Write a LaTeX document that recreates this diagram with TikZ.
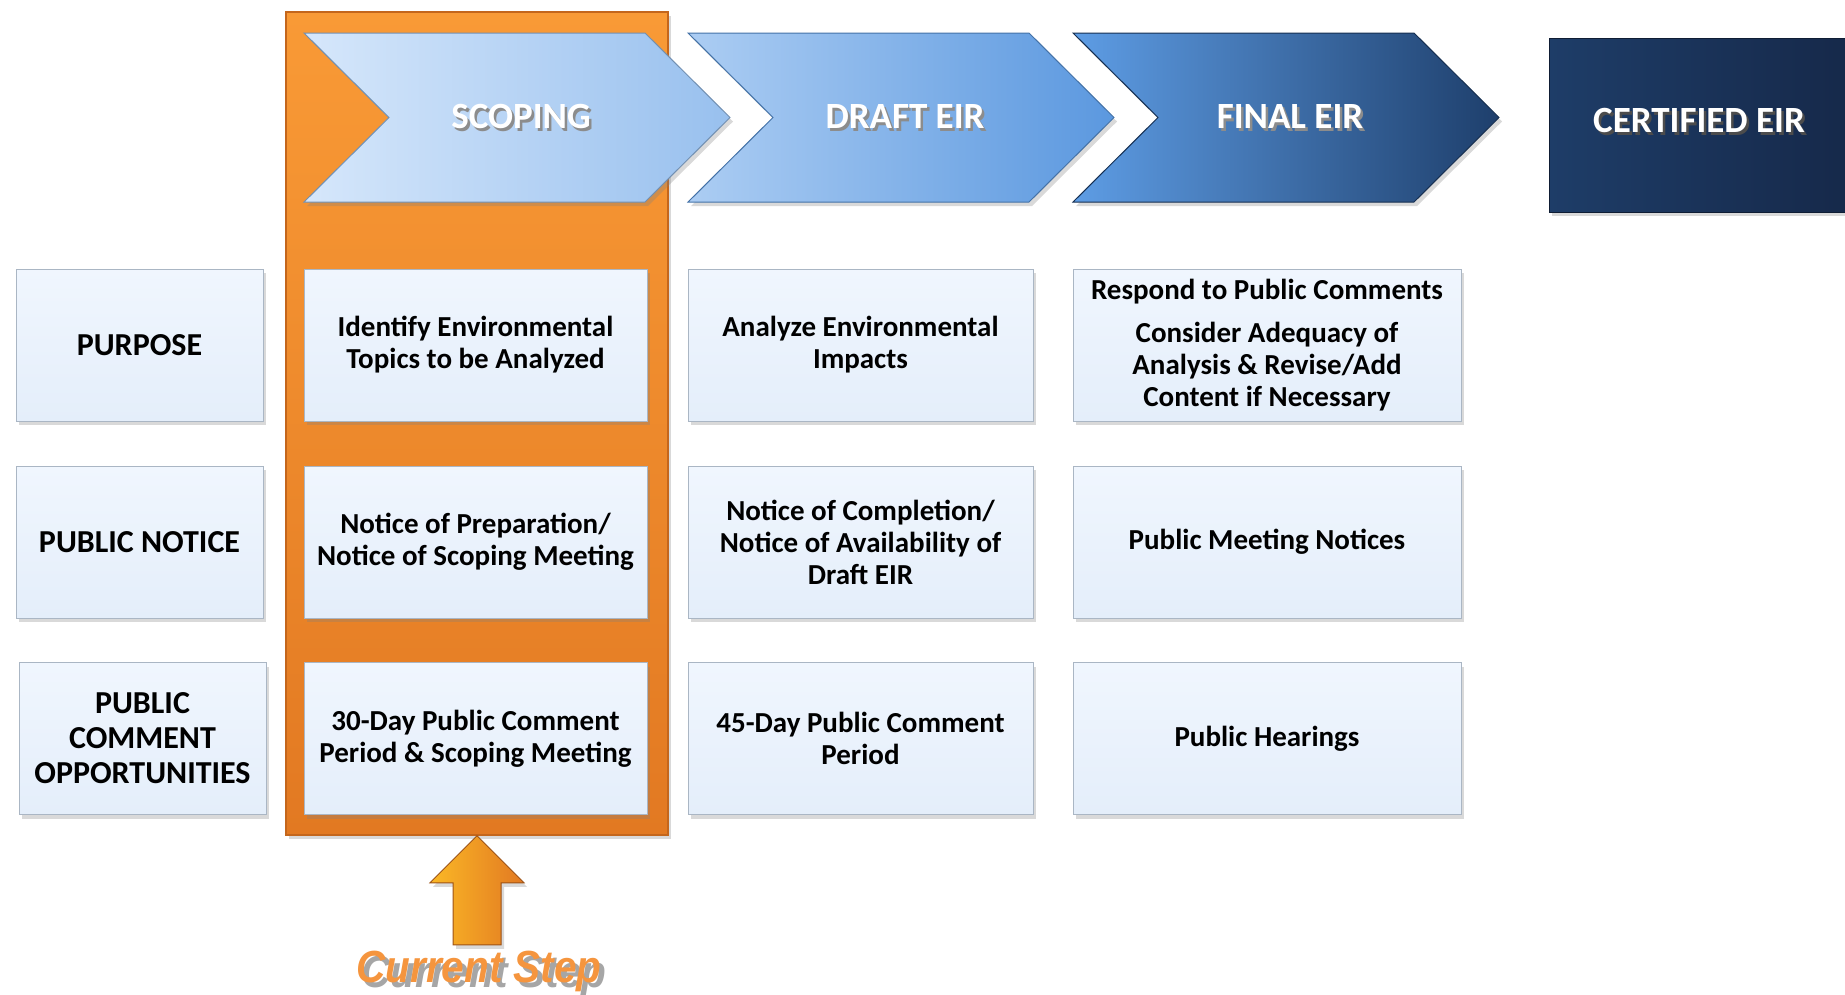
\documentclass[tikz,border=0pt]{standalone}
\usepackage{fontspec}
\setmainfont{Carlito}
\newfontfamily\stepfont[FakeStretch=0.9]{Liberation Sans}
\usetikzlibrary{shadows}

\definecolor{colTop}{HTML}{F99A36}
\definecolor{colBot}{HTML}{E27922}
\definecolor{colEdge}{HTML}{C4661C}
\definecolor{cellTop}{HTML}{F0F6FE}
\definecolor{cellFill}{HTML}{E4EEFA}
\definecolor{cellEdge}{HTML}{AAB6C4}
\definecolor{scopeL}{HTML}{D6E7FB}
\definecolor{scopeR}{HTML}{98C0EE}
\definecolor{draftL}{HTML}{ACCDF3}
\definecolor{draftR}{HTML}{5B98DF}
\definecolor{finalL}{HTML}{5E9DE5}
\definecolor{finalR}{HTML}{1E3F6C}
\definecolor{certL}{HTML}{1E3D68}
\definecolor{certR}{HTML}{16294A}
\definecolor{stepOrange}{HTML}{F5953E}

% text with an offset grey copy behind it
\newcommand{\shadowtext}[3]{\makebox[0pt][l]{\hspace{#1}\raisebox{-#1}{\textcolor{#2}{#3}}}#3}

\tikzset{
  softshadow/.style={drop shadow={opacity=0.3, shadow xshift=3pt, shadow yshift=-4pt}},
  cell/.style={draw=cellEdge, line width=1pt, top color=cellTop, bottom color=cellFill,
    minimum height=152pt, inner sep=0pt, align=center, softshadow,
    font=\fontsize{29}{32}\selectfont\bfseries},
  rowlabel/.style={cell, minimum width=247pt, font=\fontsize{32}{35}\selectfont\bfseries},
  headtext/.style={text=white, font=\fontsize{37}{40}\selectfont\bfseries}
}

\begin{document}
\begin{tikzpicture}[x=1pt,y=-1pt]
  \useasboundingbox (0,0) rectangle (1845,994);

  % current step column
  \node [draw=colEdge, line width=1.5pt, top color=colTop, bottom color=colBot,
    minimum width=382pt, minimum height=823pt, inner sep=0pt, softshadow] (col) at (477,423.5) {};

  % stage chevrons
  \foreach \x/\lc/\rc/\lbl/\nm in {304/scopeL/scopeR/SCOPING/scope,
      688/draftL/draftR/DRAFT EIR/draft, 1073/finalL/finalR/FINAL EIR/final} {
    \path [left color=\lc, right color=\rc, draw=\rc!75!black, line width=1pt, softshadow]
      (\x,33) -- ++(341,0) -- ++(85,84.5) -- ++(-85,84.5) -- ++(-341,0) -- ++(85,-84.5) -- cycle;
    \node [headtext] (\nm) at (\x+217,118) {\shadowtext{2.5pt}{black!45}{\lbl}};
  }
  \node [left color=certL, right color=certR, draw=certR!70!black, line width=1pt,
    minimum width=298pt, minimum height=174pt, softshadow] (cert) at (1698,125) {};
  \node [headtext] (certtxt) at (1699,122) {\shadowtext{2.5pt}{black!70}{CERTIFIED EIR}};

  % row labels
  \node [rowlabel] (purpose) at (139.5,345) {PURPOSE};
  \node [rowlabel] (notice) at (139.5,542) {PUBLIC NOTICE};
  \node [rowlabel] (comment) at (142.5,738.5) {PUBLIC\\COMMENT\\OPPORTUNITIES};

  % scoping
  \node [cell, minimum width=343pt] (s1) at (475.5,345) {Identify Environmental\\Topics to be Analyzed};
  \node [cell, minimum width=343pt] (s2) at (475.5,542) {Notice of Preparation/\\Notice of Scoping Meeting};
  \node [cell, minimum width=343pt] (s3) at (475.5,738.5) {30-Day Public Comment\\Period \& Scoping Meeting};

  % draft EIR
  \node [cell, minimum width=345pt] (d1) at (860.5,345) {Analyze Environmental\\Impacts};
  \node [cell, minimum width=345pt] (d2) at (860.5,542) {Notice of Completion/\\Notice of Availability of\\Draft EIR};
  \node [cell, minimum width=345pt] (d3) at (860.5,738.5) {45-Day Public Comment\\Period};

  % final EIR
  \node [cell, minimum width=388pt] (f1) at (1267,345) {Respond to Public Comments\\[11pt]Consider Adequacy of\\Analysis \& Revise/Add\\Content if Necessary};
  \node [cell, minimum width=388pt] (f2) at (1267,542) {Public Meeting Notices};
  \node [cell, minimum width=388pt] (f3) at (1267,738.5) {Public Hearings};

  % pointer to the current step
  \node [font=\stepfont\fontsize{45}{48}\selectfont\bfseries\itshape, text=stepOrange] (cur) at (479,974)
    {\shadowtext{5pt}{black!35}{Current Step}};
  \path [left color=colTop!70!yellow, right color=colBot, draw=colEdge!80!black, line width=1pt, softshadow]
    (col.south) -- ++(47,47) -- ++(-23,0) -- ++(0,62) -- ++(-48,0) -- ++(0,-62) -- ++(-23,0) -- cycle;
\end{tikzpicture}
\end{document}
